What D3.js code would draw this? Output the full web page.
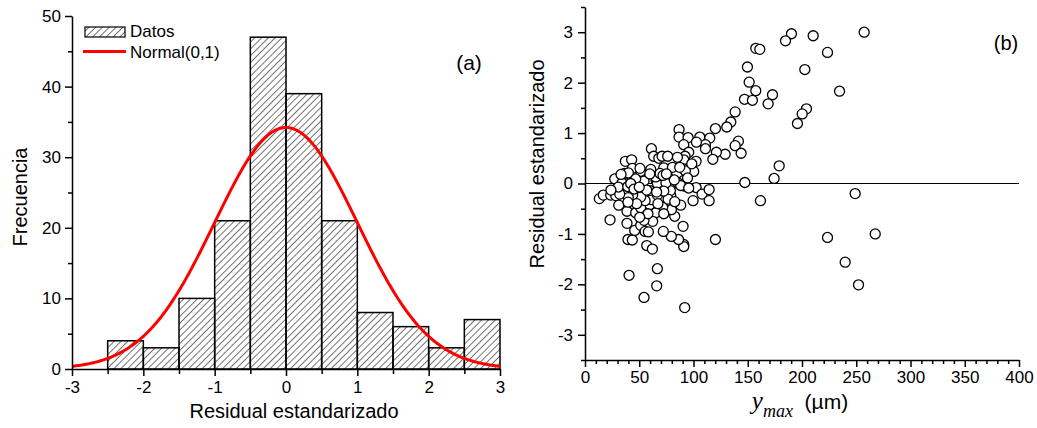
<!DOCTYPE html>
<html>
<head>
<meta charset="utf-8">
<script src="https://cdn.jsdelivr.net/npm/d3@7"></script>
<style>
  body { margin: 0; background: #fff; }
  text { font-family: "Liberation Sans", Arial, sans-serif; fill: #000; }
  .axis path, .axis line { stroke: #000; stroke-width: 1.5; }
  .axis text { font-family: "Liberation Sans", Arial, sans-serif; font-size: 17px; fill: #000; }
</style>
</head>
<body>
<svg id="chart"></svg>
<script>
// panel (a): histogram
const binStarts = [-2.5, -2, -1.5, -1, -0.5, 0, 0.5, 1, 1.5, 2, 2.5];
const binCounts = [4, 3, 10, 21, 47, 39, 21, 8, 6, 3, 7];
const binWidth = 0.5;
const normalPeak = 34.2;
const histXTicks = [-3, -2, -1, 0, 1, 2, 3];
const histYTicks = [0, 10, 20, 30, 40, 50];

// panel (b): residuals vs ymax
const ymaxVals = [257.3, 190.3, 184.8, 210.3, 157.4, 161.1, 223.5, 149.7, 202.6, 151.3,
  157.4, 234.6, 147, 154.3, 172.8, 168.8, 204.1, 200.2, 195.8, 138.4,
  134.4, 130.7, 120.2, 86.7, 86.7, 95, 105.8, 115, 111, 111,
  102.7, 91, 141.4, 138.4, 143.9, 129.2, 121.1, 117.8, 95.6, 92.2,
  91, 102.4, 100.2, 90.7, 61.2, 63.3, 68, 71, 76.2, 37.2,
  43, 43.6, 51.3, 60.6, 72.6, 80.6, 76.2, 27.4, 35, 36.3,
  34.1, 54.4, 65.5, 66.7, 80.2, 91, 91.3, 102.4, 107.9, 114.4,
  114.4, 99.6, 147.3, 174.3, 179, 161.7, 249, 120.2, 223.5, 267.5,
  239.8, 252.1, 90.4, 88.2, 91, 91, 86.2, 79.6, 72.2, 82.7,
  79.6, 79, 78.7, 71.6, 65.2, 62.4, 59.7, 61.5, 59.7, 66.7,
  56.9, 62.1, 66.7, 66.1, 54.4, 91.9, 40.6, 39.6, 43.6, 45.8,
  38.7, 23.1, 38.7, 46.7, 51.3, 51.3, 55.4, 58.4, 54.4, 55.4,
  51.3, 43.9, 39.9, 31.1, 13.2, 16.9, 23.7, 28.3, 32, 30.7,
  23.9, 39.4, 40, 46.7, 50.7, 76.6, 82.7, 65.2, 69.2, 59.7,
  74.6, 85.8, 92.5, 98.4, 94.5, 85.2, 88.2, 95.6, 71.9, 82.3,
  42.1, 56.9, 45.2, 50, 72.6, 66, 87.3, 33.2, 67.2, 47.6,
  39.6, 58, 50.4, 72.6, 75];
const residVals = [3.0, 2.97, 2.83, 2.93, 2.68, 2.66, 2.6, 2.31, 2.26, 2.01,
  1.84, 1.83, 1.67, 1.65, 1.76, 1.58, 1.48, 1.38, 1.19, 1.42,
  1.22, 1.12, 1.09, 1.07, 0.92, 0.91, 0.92, 0.9, 0.77, 0.69,
  0.82, 0.77, 0.84, 0.75, 0.6, 0.58, 0.62, 0.48, 0.62, 0.54,
  0.47, 0.44, 0.24, 0.29, 0.69, 0.54, 0.5, 0.54, 0.54, 0.44,
  0.47, 0.3, 0.24, 0.28, 0.31, 0.32, 0.14, 0.09, 0.13, 0.2,
  0.01, 0.05, 0.06, 0.0, 0.0, 0.06, -0.05, -0.08, -0.21, -0.12,
  -0.34, -0.34, 0.02, 0.1, 0.35, -0.34, -0.2, -1.11, -1.07, -1.0,
  -1.56, -2.01, -0.85, -0.43, -1.21, -1.25, -1.11, -1.05, -0.95, -0.65,
  -0.52, -0.24, -0.14, -0.47, -0.58, -0.75, -0.42, -0.32, -0.14, -0.23,
  -1.23, -1.3, -1.69, -2.03, -2.26, -2.46, -1.82, -1.11, -1.12, -0.93,
  -0.79, -0.72, -0.55, -0.58, -0.48, -0.83, -0.95, -0.96, -0.73, -0.34,
  -0.27, -0.23, -0.28, -0.43, -0.3, -0.23, -0.23, -0.24, -0.21, -0.07,
  -0.13, -0.06, 0.21, 0.09, 0.3, -0.31, -0.36, 0.13, 0.2, 0.19,
  0.01, 0.01, 0.25, 0.39, 0.11, 0.52, -0.04, -0.09, 0.16, 0.07,
  0.0, -0.13, -0.11, -0.07, -0.15, -0.17, 0.32, 0.18, -0.4, -0.4,
  -0.37, -0.6, -0.67, -0.6, 0.19];
const scatXTicks = [0, 50, 100, 150, 200, 250, 300, 350, 400];
const scatYTicks = [-3, -2, -1, 0, 1, 2, 3];

const width = 1037, height = 428;
const svg = d3.select('#chart').attr('width', width).attr('height', height);

// hatch pattern for bars
const defs = svg.append('defs');
defs.append('pattern')
  .attr('id', 'hatch')
  .attr('patternUnits', 'userSpaceOnUse')
  .attr('width', 4.8).attr('height', 10)
  .attr('patternTransform', 'rotate(45)')
  .append('line')
  .attr('x1', 0).attr('y1', 0).attr('x2', 0).attr('y2', 10)
  .attr('stroke', '#000').attr('stroke-width', 1.1);

// ---------- panel (a) ----------
const xHist = d3.scaleLinear().domain([-3, 3]).range([72, 500]);
const yHist = d3.scaleLinear().domain([0, 50]).range([369, 16]);

svg.append('g').selectAll('rect')
  .data(binStarts)
  .enter()
  .append('rect')
  .attr('x', d => xHist(d))
  .attr('y', (d, i) => yHist(binCounts[i]))
  .attr('width', xHist(binWidth) - xHist(0))
  .attr('height', (d, i) => yHist(0) - yHist(binCounts[i]))
  .attr('fill', 'url(#hatch)')
  .attr('stroke', '#000')
  .attr('stroke-width', 1.5);

const curve = d3.range(-3, 3.001, 0.02).map(x => [x, normalPeak * Math.exp(-x * x / 2)]);
svg.append('path')
  .datum(curve)
  .attr('fill', 'none')
  .attr('stroke', '#f00')
  .attr('stroke-width', 3)
  .attr('d', d3.line().x(d => xHist(d[0])).y(d => yHist(d[1])));

// minor ticks first, then major axes with labels
svg.append('g').attr('class', 'axis')
  .attr('transform', 'translate(0,369)')
  .call(d3.axisBottom(xHist).tickValues(d3.range(-2.5, 3, 1)).tickSize(5).tickFormat(''))
  .select('.domain').remove();
svg.append('g').attr('class', 'axis')
  .attr('transform', 'translate(0,369)')
  .call(d3.axisBottom(xHist).tickValues(histXTicks).tickSize(7).tickSizeOuter(0).tickPadding(5)
    .tickFormat(d => d < 0 ? '-' + Math.abs(d) : d));
svg.append('g').attr('class', 'axis')
  .attr('transform', 'translate(72,0)')
  .call(d3.axisLeft(yHist).tickValues([5, 15, 25, 35, 45]).tickSize(4).tickFormat(''))
  .select('.domain').remove();
svg.append('g').attr('class', 'axis')
  .attr('transform', 'translate(72,0)')
  .call(d3.axisLeft(yHist).tickValues(histYTicks).tickSize(7).tickSizeOuter(0).tickPadding(4));

svg.append('text')
  .attr('transform', 'translate(27,197) rotate(-90)')
  .attr('text-anchor', 'middle')
  .style('font-size', '20px')
  .text('Frecuencia');
svg.append('text')
  .attr('x', 294).attr('y', 418)
  .attr('text-anchor', 'middle')
  .style('font-size', '20px')
  .text('Residual estandarizado');
svg.append('text')
  .attr('x', 469).attr('y', 70)
  .attr('text-anchor', 'middle')
  .style('font-size', '21px')
  .text('(a)');

// legend
svg.append('rect')
  .attr('x', 85).attr('y', 27).attr('width', 40).attr('height', 10)
  .attr('fill', 'url(#hatch)').attr('stroke', '#000').attr('stroke-width', 1.2);
svg.append('text').attr('x', 130).attr('y', 37).style('font-size', '17px').text('Datos');
svg.append('line')
  .attr('x1', 83).attr('x2', 126).attr('y1', 51.5).attr('y2', 51.5)
  .attr('stroke', '#f00').attr('stroke-width', 3);
svg.append('text').attr('x', 130).attr('y', 58).style('font-size', '17px').text('Normal(0,1)');

// ---------- panel (b) ----------
const xScat = d3.scaleLinear().domain([0, 400]).range([585, 1019]);
const yScat = d3.scaleLinear().domain([-3.5, 3.5]).range([360, 7]);

svg.append('line')
  .attr('x1', xScat(0)).attr('x2', xScat(400))
  .attr('y1', yScat(0)).attr('y2', yScat(0))
  .attr('stroke', '#000').attr('stroke-width', 1);

svg.append('g').selectAll('circle')
  .data(ymaxVals)
  .enter()
  .append('circle')
  .attr('cx', d => xScat(d))
  .attr('cy', (d, i) => yScat(residVals[i]))
  .attr('r', 5)
  .attr('fill', '#fff')
  .attr('stroke', '#000')
  .attr('stroke-width', 1.3);

svg.append('g').attr('class', 'axis')
  .attr('transform', 'translate(0,360)')
  .call(d3.axisBottom(xScat).tickValues(d3.range(10, 400, 10).filter(v => v % 50)).tickSize(4).tickFormat(''))
  .select('.domain').remove();
svg.append('g').attr('class', 'axis')
  .attr('transform', 'translate(0,360)')
  .call(d3.axisBottom(xScat).tickValues(scatXTicks).tickSize(7).tickSizeOuter(0).tickPadding(4));
svg.append('g').attr('class', 'axis')
  .attr('transform', 'translate(585,0)')
  .call(d3.axisLeft(yScat).tickValues([-3.5, -2.5, -1.5, -0.5, 0.5, 1.5, 2.5, 3.5]).tickSize(4).tickFormat(''))
  .select('.domain').remove();
svg.append('g').attr('class', 'axis')
  .attr('transform', 'translate(585,0)')
  .call(d3.axisLeft(yScat).tickValues(scatYTicks).tickSize(7).tickSizeOuter(0).tickPadding(5)
    .tickFormat(d => d < 0 ? '-' + Math.abs(d) : d));

svg.append('text')
  .attr('transform', 'translate(544,164) rotate(-90)')
  .attr('text-anchor', 'middle')
  .style('font-size', '20px')
  .text('Residual estandarizado');

const xl = svg.append('text').attr('x', 800).attr('y', 409).attr('text-anchor', 'middle');
xl.append('tspan')
  .style('font-family', '"Liberation Serif", "Times New Roman", serif')
  .style('font-style', 'italic').style('font-size', '25px')
  .text('y');
xl.append('tspan')
  .attr('dy', 8)
  .style('font-family', '"Liberation Serif", "Times New Roman", serif')
  .style('font-style', 'italic').style('font-size', '18px')
  .text('max');
xl.append('tspan')
  .attr('dy', -8)
  .style('font-size', '21px')
  .text('\u00a0\u00a0(\u00b5m)');

svg.append('text')
  .attr('x', 1006).attr('y', 50)
  .attr('text-anchor', 'middle')
  .style('font-size', '20px')
  .text('(b)');
</script>
</body>
</html>
